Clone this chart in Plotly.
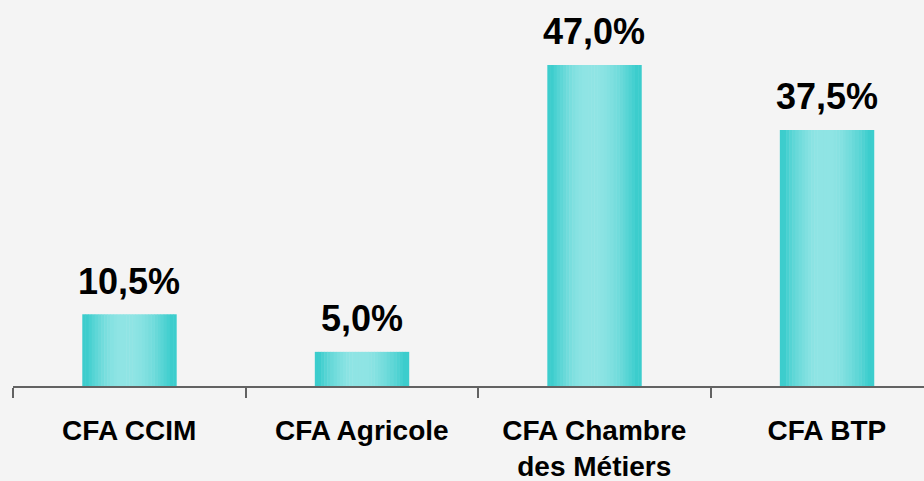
import plotly.graph_objects as go

categories = ["CFA CCIM", "CFA Agricole", "CFA Chambre<br>des Métiers", "CFA BTP"]
values = [10.5, 5.0, 47.0, 37.5]
labels = ["10,5%", "5,0%", "47,0%", "37,5%"]

edge = (60, 205, 205)
light = (143, 228, 228)
N = 30
bar_w = 0.404

def profile(t):
    c = 0.46
    if t < c:
        d = (c - t) / c
    else:
        d = (t - c) / (1 - c)
    d = max(0.0, min(1.0, (d - 0.12) / 0.78))
    return 1 - d ** 1.6

fig = go.Figure()
for i in range(N):
    t = (i + 0.5) / N
    f = profile(t)
    col = "rgb(%d,%d,%d)" % tuple(round(edge[k] + (light[k] - edge[k]) * f) for k in range(3))
    fig.add_trace(go.Bar(
        x=categories, y=values,
        width=bar_w / N * 1.15,
        offset=-bar_w / 2 + i * bar_w / N,
        marker=dict(color=col, line=dict(width=0)),
        hoverinfo="skip", showlegend=False,
    ))

for c, v, lab in zip(categories, values, labels):
    fig.add_annotation(x=c, y=v, text="<b>%s</b>" % lab, showarrow=False,
                       yanchor="middle", yshift=33,
                       font=dict(size=36, color="black", family="Liberation Sans, Arial"))

fig.update_layout(
    width=924, height=481,
    margin=dict(l=13, r=0, t=0, b=95),
    paper_bgcolor="#f4f4f4", plot_bgcolor="#f4f4f4",
    barmode="overlay",
    font=dict(family="Liberation Sans, Arial", color="black"),
)
fig.update_xaxes(
    type="category", range=[-0.5, 3.418],
    showline=True, linecolor="rgba(0,0,0,0.6)", linewidth=2,
    ticks="outside", tickson="boundaries", ticklen=10, tickwidth=2, tickcolor="rgba(0,0,0,0.6)",
    tickfont=dict(size=28, color="black", family="Liberation Sans, Arial"),
    tickprefix="<b>", ticksuffix="</b>",
    ticklabelstandoff=18,
    showgrid=False, zeroline=False, fixedrange=True,
)
fig.update_yaxes(range=[0, 386 / 6.83], visible=False, showgrid=False, zeroline=False)

fig.write_html("out.html", config={"displayModeBar": False},
               post_script="document.body.style.margin='0';document.body.style.background='#f4f4f4';")
